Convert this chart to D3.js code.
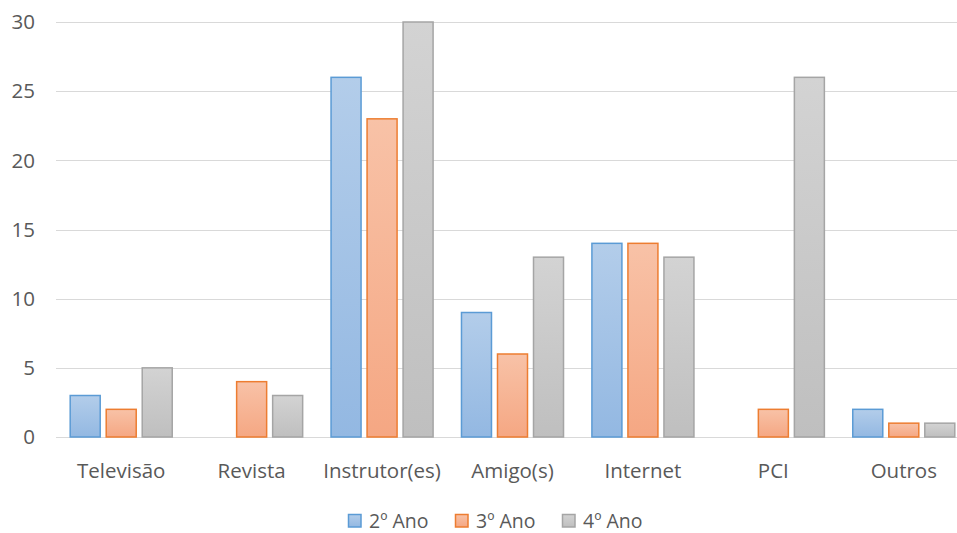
<!DOCTYPE html>
<html>
<head>
<meta charset="utf-8">
<title>Fontes de informação</title>
<style>
body { margin: 0; background: #fff; }
svg text { font-family: "Open Sans", Lato, sans-serif; fill: #595959; font-size: 20.5px; }
.grid line { stroke: #d9d9d9; stroke-width: 1px; }
</style>
</head>
<body>
<script src="https://d3js.org/d3.v7.min.js"></script>
<script>

var width = 957,
    height = 533;

// data
var categories = ["Televisão", "Revista", "Instrutor(es)", "Amigo(s)", "Internet", "PCI", "Outros"];
var series = ["2º Ano", "3º Ano", "4º Ano"];
var ano2 = [3, 0, 26, 9, 14, 0, 2];
var ano3 = [2, 4, 23, 6, 14, 2, 1];
var ano4 = [5, 3, 30, 13, 13, 26, 1];
var yTicks = [0, 5, 10, 15, 20, 25, 30];

var values = [ano2, ano3, ano4];
var strokes = ["#5b9bd5", "#ed7d31", "#a5a5a5"];
var topFill = ["#b3cdea", "#f8c2a7", "#d3d3d3"];
var botFill = ["#93b8e2", "#f5a783", "#bfbfbf"];

var svg = d3.select("body").append("svg")
    .attr("width", width)
    .attr("height", height);

var defs = svg.append("defs");
series.forEach(function (s, i) {
  var g = defs.append("linearGradient")
      .attr("id", "grad" + i)
      .attr("x1", 0).attr("y1", 0).attr("x2", 0).attr("y2", 1);
  g.append("stop").attr("offset", "0%").attr("stop-color", topFill[i]);
  g.append("stop").attr("offset", "100%").attr("stop-color", botFill[i]);
});

var x0 = d3.scaleBand()
    .domain(categories)
    .range([56, 969])
    .paddingInner(0.21)
    .paddingOuter(0.105);

var x1 = d3.scaleBand()
    .domain(series)
    .range([0, x0.bandwidth()])
    .paddingInner(0.139);

var y = d3.scaleLinear()
    .domain([0, 30])
    .range([437, 22]);

// gridlines
svg.append("g").attr("class", "grid")
  .selectAll("line")
  .data(yTicks)
  .enter().append("line")
    .attr("x1", 56)
    .attr("x2", 969)
    .attr("y1", function (d) { return Math.round(y(d)) + 0.5; })
    .attr("y2", function (d) { return Math.round(y(d)) + 0.5; });

// y labels
svg.append("g")
  .selectAll("text")
  .data(yTicks)
  .enter().append("text")
    .attr("x", 35)
    .attr("y", function (d) { return y(d); })
    .attr("dy", "0.35em")
    .attr("text-anchor", "end")
    .text(function (d) { return d; });

// bars
var groups = svg.append("g")
  .selectAll("g")
  .data(categories)
  .enter().append("g")
    .attr("transform", function (d) { return "translate(" + x0(d) + ",0)"; });

groups.selectAll("rect")
  .data(function (d, ci) {
    return series.map(function (s, si) { return {s: s, si: si, v: values[si][ci]}; })
      .filter(function (e) { return e.v > 0; });
  })
  .enter().append("rect")
    .attr("x", function (d) { return x1(d.s) + 0.5; })
    .attr("y", function (d) { return y(d.v); })
    .attr("width", x1.bandwidth() - 1)
    .attr("height", function (d) { return y(0) - y(d.v); })
    .attr("fill", function (d) { return "url(#grad" + d.si + ")"; })
    .attr("stroke", function (d) { return strokes[d.si]; })
    .attr("stroke-width", 1.5);

// x labels
svg.append("g")
  .selectAll("text")
  .data(categories)
  .enter().append("text")
    .attr("x", function (d) { return x0(d) + x0.bandwidth() / 2; })
    .attr("y", 470.5)
    .attr("dy", "0.35em")
    .attr("text-anchor", "middle")
    .text(function (d) { return d; });

// legend
var legendX = [348, 455, 562];
var legend = svg.append("g")
  .selectAll("g")
  .data(series)
  .enter().append("g")
    .attr("transform", function (d, i) { return "translate(" + legendX[i] + ",514)"; });

legend.append("rect")
  .attr("x", 0.5).attr("y", 0.5)
  .attr("width", 12.5).attr("height", 12.5)
  .attr("fill", function (d, i) { return "url(#grad" + i + ")"; })
  .attr("stroke", function (d, i) { return strokes[i]; })
  .attr("stroke-width", 1.5);

legend.append("text")
  .attr("x", 21)
  .attr("y", 6.8)
  .attr("dy", "0.35em")
  .style("font-size", "19.5px")
  .text(function (d) { return d; });

</script>
</body>
</html>
